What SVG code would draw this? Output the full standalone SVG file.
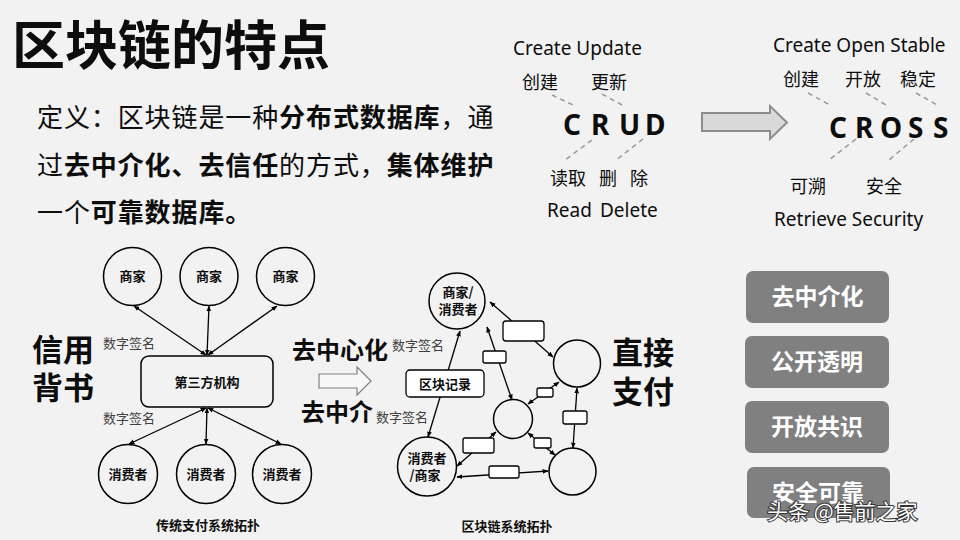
<svg xmlns="http://www.w3.org/2000/svg" width="960" height="540" viewBox="0 0 960 540">
<defs>
<marker id="ah" viewBox="0 0 10 10" refX="9" refY="5" markerWidth="6" markerHeight="6" orient="auto-start-reverse" markerUnits="userSpaceOnUse"><path d="M0,1 L10,5 L0,9 z" fill="#000"/></marker>
<style>
text{font-family:"Noto Sans","Noto Sans CJK SC",sans-serif;fill:#0d0d0d}
.cjk{font-family:"Noto Sans CJK SC",sans-serif}
.b{font-weight:bold}
.t18{font-size:18px}
.t19{font-size:19px}
.big{font-size:28px;font-weight:bold;font-family:"Noto Sans",sans-serif}
.sig{font-size:13px;fill:#404040;font-family:"Noto Sans CJK SC",sans-serif}
.lbl{font-size:13px;font-weight:bold;font-family:"Noto Sans CJK SC",sans-serif;text-anchor:middle}
.dash{stroke:#999;stroke-width:1.5;stroke-dasharray:5 4;fill:none}
.nd{fill:none;stroke:#000;stroke-width:1.5}
.ln{stroke:#000;stroke-width:1.3;fill:none;marker-start:url(#ah);marker-end:url(#ah)}
.bx{fill:#fff;stroke:#000;stroke-width:1.3}
.btn{fill:#808080}
.btt{font-size:23px;font-weight:bold;fill:#fff;text-anchor:middle;font-family:"Noto Sans CJK SC",sans-serif}
.hd{font-size:31px;font-weight:bold;font-family:"Noto Sans CJK SC",sans-serif}
.mid{font-size:24px;font-weight:bold;font-family:"Noto Sans CJK SC",sans-serif}
</style>
</defs>
<rect width="960" height="540" fill="#f2f2f2"/>

<g id="title"><text x="12" y="65" class="cjk b" style="font-size:53px" fill="#000">区块链的特点</text></g>

<g id="definition" class="cjk" style="font-size:26px;letter-spacing:0.9px">
<text x="37" y="127">定义：区块链是一种<tspan class="b">分布式数据库</tspan>，通</text>
<text x="37" y="175">过<tspan class="b">去中介化、去信任</tspan>的方式，<tspan class="b">集体维护</tspan></text>
<text x="37" y="222">一个<tspan class="b">可靠数据库。</tspan></text>
</g>

<g id="crud">
<text x="513" y="55" class="t19">Create Update</text>
<text x="522" y="89" class="t18 cjk">创建</text>
<text x="591" y="89" class="t18 cjk">更新</text>
<text class="big" y="135"><tspan x="563">C</tspan><tspan x="591">R</tspan><tspan x="619">U</tspan><tspan x="645">D</tspan></text>
<line class="dash" x1="552" y1="95" x2="573" y2="105"/>
<line class="dash" x1="602" y1="94" x2="622" y2="105"/>
<line class="dash" x1="592" y1="140" x2="565" y2="160"/>
<line class="dash" x1="643" y1="139" x2="615" y2="161"/>
<text y="185" class="t18 cjk"><tspan x="550">读取</tspan><tspan x="599">删</tspan><tspan x="630">除</tspan></text>
<text y="217" class="t19"><tspan x="547">Read</tspan><tspan x="600">Delete</tspan></text>
</g>

<g id="bigarrow"><path d="M702,113 H770 V106 L787,122.5 L770,139 V131 H702 Z" fill="#d9d9d9" stroke="#8c8c8c" stroke-width="2"/></g>

<g id="cross">
<text x="773" y="52" class="t19">Create Open Stable</text>
<text x="783" y="86" class="t18 cjk">创建</text>
<text x="845" y="86" class="t18 cjk">开放</text>
<text x="900" y="86" class="t18 cjk">稳定</text>
<text class="big" y="138"><tspan x="829">C</tspan><tspan x="855">R</tspan><tspan x="880">O</tspan><tspan x="908">S</tspan><tspan x="933">S</tspan></text>
<line class="dash" x1="808" y1="93" x2="830" y2="105"/>
<line class="dash" x1="866" y1="93" x2="886" y2="105"/>
<line class="dash" x1="916" y1="93" x2="937" y2="105"/>
<line class="dash" x1="856" y1="139" x2="829" y2="160"/>
<line class="dash" x1="914" y1="139" x2="889" y2="160"/>
<text x="790" y="193" class="t18 cjk">可溯</text>
<text x="866" y="193" class="t18 cjk">安全</text>
<text x="774" y="226" class="t19">Retrieve Security</text>
</g>

<g id="connectors">
<line class="ln" x1="206" y1="355" x2="134" y2="306"/>
<line class="ln" x1="207" y1="355" x2="209" y2="306"/>
<line class="ln" x1="208" y1="355" x2="277" y2="306"/>
<line class="ln" x1="206" y1="408" x2="129" y2="444"/>
<line class="ln" x1="207" y1="408" x2="206" y2="444"/>
<line class="ln" x1="208" y1="408" x2="281" y2="444"/>
<line class="ln" x1="460" y1="331" x2="428" y2="437"/>
<line class="ln" x1="487" y1="327" x2="512" y2="400"/>
<line class="ln" x1="490" y1="302" x2="553" y2="357"/>
<line class="ln" x1="559" y1="382" x2="528" y2="404"/>
<line class="ln" x1="577" y1="388" x2="573" y2="448"/>
<line class="ln" x1="528" y1="433" x2="555" y2="455"/>
<line class="ln" x1="496" y1="432" x2="457" y2="466"/>
<line class="ln" x1="457" y1="477" x2="548" y2="471"/>
</g>

<g id="trad-m1"><circle class="nd" cx="132.5" cy="276.5" r="29"/><text class="lbl" x="132.5" y="281">商家</text></g>
<g id="trad-m2"><circle class="nd" cx="209" cy="276.5" r="29"/><text class="lbl" x="209" y="281">商家</text></g>
<g id="trad-m3"><circle class="nd" cx="285.5" cy="276.5" r="29"/><text class="lbl" x="285.5" y="281">商家</text></g>
<g id="trad-c1"><circle class="nd" cx="128" cy="474" r="29.5"/><text class="lbl" x="128" y="478.5">消费者</text></g>
<g id="trad-c2"><circle class="nd" cx="206" cy="474" r="29.5"/><text class="lbl" x="206" y="478.5">消费者</text></g>
<g id="trad-c3"><circle class="nd" cx="282" cy="474" r="29.5"/><text class="lbl" x="282" y="478.5">消费者</text></g>
<g id="third-party"><rect x="141" y="356" width="132" height="51" rx="8" fill="#f2f2f2" stroke="#000" stroke-width="1.5"/><text class="lbl" x="207" y="386.5">第三方机构</text></g>
<g id="trad-labels">
<text class="sig" x="103" y="348">数字签名</text>
<text class="sig" x="103" y="423">数字签名</text>
<text class="lbl" x="208" y="530">传统支付系统拓扑</text>
<text class="hd"><tspan x="32" y="361">信用</tspan><tspan x="32" y="399">背书</tspan></text>
</g>

<g id="middle">
<text class="mid" x="292" y="359">去中心化</text>
<path d="M319,374 H357 V367 L371,381 L357,395 V388 H319 Z" fill="#f7f7f7" stroke="#7f7f7f" stroke-width="1.2"/>
<text class="mid" x="301" y="421">去中介</text>
<text class="sig" x="392" y="350">数字签名</text>
<text class="sig" x="376" y="422">数字签名</text>
</g>

<g id="bc-a"><circle class="nd" cx="457" cy="301" r="28" fill="#f2f2f2"/><text class="lbl"><tspan x="458" y="296.5">商家/</tspan><tspan x="458" y="313.5">消费者</tspan></text></g>
<g id="bc-b"><circle class="nd" cx="577" cy="363.5" r="23.5"/></g>
<g id="bc-c"><circle class="nd" cx="513" cy="419" r="19.5"/></g>
<g id="bc-d"><circle class="nd" cx="427" cy="466.5" r="29.5"/><text class="lbl"><tspan x="427" y="462.5">消费者</tspan><tspan x="425" y="479.5">/商家</tspan></text></g>
<g id="bc-e"><circle class="nd" cx="572.5" cy="471.5" r="23.5"/></g>
<g id="bc-record"><rect x="406" y="370" width="78" height="27" rx="4" class="bx"/><text class="lbl" x="445" y="388.5">区块记录</text></g>
<g id="bc-boxes">
<rect class="bx" x="503" y="321" width="41" height="20" rx="3"/>
<rect class="bx" x="483" y="351" width="23" height="12" rx="2"/>
<rect class="bx" x="537" y="388" width="16" height="9" rx="2"/>
<rect class="bx" x="563" y="411" width="24" height="13" rx="2"/>
<rect class="bx" x="534" y="438" width="17" height="10" rx="2"/>
<rect class="bx" x="463" y="438" width="31" height="15" rx="2"/>
<rect class="bx" x="489" y="466" width="30" height="12" rx="2"/>
</g>
<g id="bc-caption"><text class="lbl" x="507" y="531">区块链系统拓扑</text></g>

<g id="direct"><text class="hd"><tspan x="612" y="364">直接</tspan><tspan x="612" y="403">支付</tspan></text></g>

<g id="btn1"><rect class="btn" x="746" y="271" width="143" height="52" rx="7"/><text class="btt" x="817.5" y="305">去中介化</text></g>
<g id="btn2"><rect class="btn" x="745" y="336" width="144" height="52" rx="7"/><text class="btt" x="817" y="370">公开透明</text></g>
<g id="btn3"><rect class="btn" x="745" y="401" width="144" height="52" rx="7"/><text class="btt" x="817" y="435">开放共识</text></g>
<g id="btn4"><rect class="btn" x="747" y="467" width="143" height="51" rx="7"/><text class="btt" x="818" y="501">安全可靠</text></g>

<g id="watermark"><text x="767" y="519" class="cjk" style="font-size:21px;fill:#fff;stroke:#333;stroke-width:2;paint-order:stroke">头条 @售前之家</text></g>
</svg>
